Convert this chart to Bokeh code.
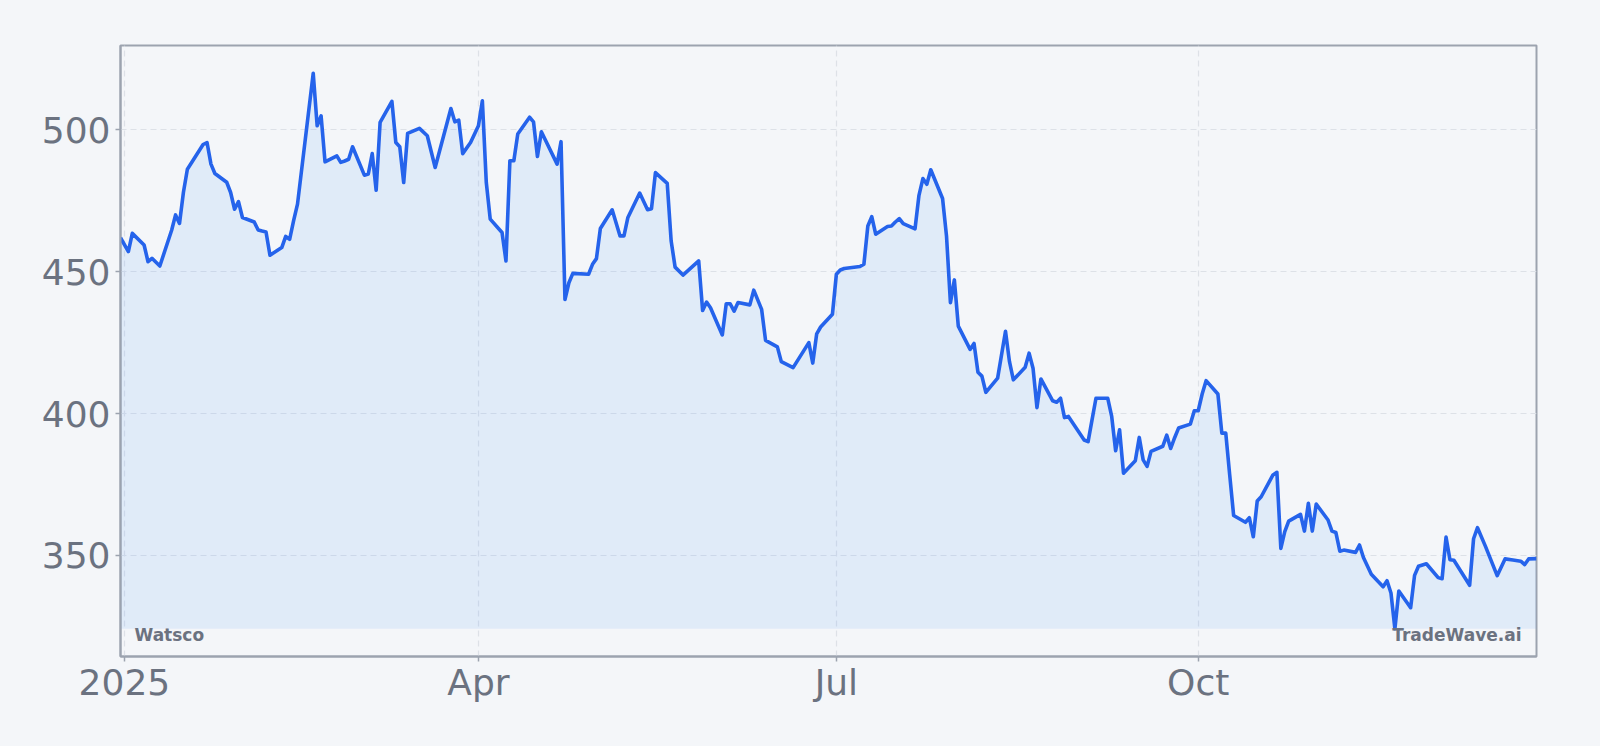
import pandas as pd
from bokeh.plotting import figure
from bokeh.models import FixedTicker, Label, Range1d, ColumnDataSource
from bokeh.embed import file_html
from bokeh.resources import INLINE

# ---- data ----
dates = [
    "2024-12-31", "2025-01-02", "2025-01-03", "2025-01-06", "2025-01-07", "2025-01-08", "2025-01-10",
    "2025-01-13", "2025-01-14", "2025-01-15", "2025-01-16", "2025-01-17", "2025-01-21", "2025-01-22",
    "2025-01-23", "2025-01-24", "2025-01-27", "2025-01-28", "2025-01-29", "2025-01-30", "2025-01-31",
    "2025-02-03", "2025-02-04", "2025-02-05", "2025-02-06", "2025-02-07", "2025-02-10", "2025-02-11",
    "2025-02-12", "2025-02-13", "2025-02-14", "2025-02-18", "2025-02-19", "2025-02-20", "2025-02-21",
    "2025-02-24", "2025-02-25", "2025-02-26", "2025-02-27", "2025-02-28", "2025-03-03", "2025-03-04",
    "2025-03-05", "2025-03-06", "2025-03-07", "2025-03-10", "2025-03-11", "2025-03-12", "2025-03-13",
    "2025-03-14", "2025-03-17", "2025-03-19", "2025-03-21", "2025-03-25", "2025-03-26", "2025-03-27",
    "2025-03-28", "2025-03-30", "2025-04-01", "2025-04-02", "2025-04-03", "2025-04-04", "2025-04-07",
    "2025-04-08", "2025-04-09", "2025-04-10", "2025-04-11", "2025-04-14", "2025-04-15", "2025-04-16",
    "2025-04-17", "2025-04-21", "2025-04-22", "2025-04-23", "2025-04-24", "2025-04-25", "2025-04-29",
    "2025-04-30", "2025-05-01", "2025-05-02", "2025-05-05", "2025-05-07", "2025-05-08", "2025-05-09",
    "2025-05-12", "2025-05-14", "2025-05-15", "2025-05-16", "2025-05-19", "2025-05-20", "2025-05-21",
    "2025-05-23", "2025-05-27", "2025-05-28", "2025-05-29", "2025-05-30", "2025-06-02", "2025-06-03",
    "2025-06-04", "2025-06-05", "2025-06-06", "2025-06-09", "2025-06-10", "2025-06-12", "2025-06-13",
    "2025-06-16", "2025-06-17", "2025-06-20", "2025-06-24", "2025-06-25", "2025-06-26", "2025-06-27",
    "2025-06-30", "2025-07-01", "2025-07-02", "2025-07-03", "2025-07-07", "2025-07-08", "2025-07-09",
    "2025-07-10", "2025-07-11", "2025-07-14", "2025-07-15", "2025-07-16", "2025-07-17", "2025-07-18",
    "2025-07-21", "2025-07-22", "2025-07-23", "2025-07-24", "2025-07-25", "2025-07-28", "2025-07-29",
    "2025-07-30", "2025-07-31", "2025-08-01", "2025-08-04", "2025-08-05", "2025-08-06", "2025-08-07",
    "2025-08-08", "2025-08-11", "2025-08-13", "2025-08-14", "2025-08-15", "2025-08-18", "2025-08-19",
    "2025-08-20", "2025-08-21", "2025-08-22", "2025-08-25", "2025-08-26", "2025-08-27", "2025-08-28",
    "2025-08-29", "2025-09-02", "2025-09-03", "2025-09-04", "2025-09-05", "2025-09-08", "2025-09-09",
    "2025-09-10", "2025-09-11", "2025-09-12", "2025-09-15", "2025-09-16", "2025-09-17", "2025-09-18",
    "2025-09-19", "2025-09-22", "2025-09-23", "2025-09-24", "2025-09-25", "2025-09-26", "2025-09-29",
    "2025-09-30", "2025-10-01", "2025-10-02", "2025-10-03", "2025-10-06", "2025-10-07", "2025-10-08",
    "2025-10-09", "2025-10-10", "2025-10-13", "2025-10-14", "2025-10-15", "2025-10-16", "2025-10-17",
    "2025-10-20", "2025-10-21", "2025-10-22", "2025-10-23", "2025-10-24", "2025-10-27", "2025-10-28",
    "2025-10-29", "2025-10-30", "2025-10-31", "2025-11-03", "2025-11-04", "2025-11-05", "2025-11-06",
    "2025-11-07", "2025-11-10", "2025-11-11", "2025-11-12", "2025-11-14", "2025-11-17", "2025-11-18",
    "2025-11-19", "2025-11-20", "2025-11-21", "2025-11-24", "2025-11-25", "2025-11-26", "2025-11-28",
    "2025-12-01", "2025-12-02", "2025-12-03", "2025-12-04", "2025-12-05", "2025-12-09", "2025-12-10",
    "2025-12-11", "2025-12-13", "2025-12-16", "2025-12-18", "2025-12-20", "2025-12-22", "2025-12-23",
    "2025-12-24", "2025-12-26",
]
prices = [
    462.0, 457.1, 463.5, 459.4, 453.5, 454.7, 452.0,
    464.6, 470.0, 467.0, 478.0, 486.1, 494.8, 495.5,
    487.9, 484.6, 481.5, 477.9, 472.0, 474.7, 469.1,
    467.5, 464.7, 464.3, 464.0, 455.8, 458.5, 462.4,
    461.4, 467.9, 473.8, 519.9, 501.4, 504.9, 488.7,
    490.8, 488.5, 489.0, 489.6, 494.0, 484.0, 484.4,
    491.6, 478.7, 502.6, 510.0, 495.5, 494.0, 481.4,
    498.7, 500.5, 497.9, 486.7, 507.5, 502.8, 503.4,
    491.6, 495.5, 501.4, 510.2, 481.4, 468.5, 463.8,
    453.8, 489.1, 489.1, 498.5, 504.4, 502.8, 490.6,
    499.3, 487.9, 495.8, 440.2, 446.1, 449.4, 449.1,
    452.6, 454.6, 465.2, 471.8, 462.6, 462.6, 469.1,
    477.7, 471.8, 472.2, 484.9, 481.1, 460.8, 451.6,
    448.8, 453.8, 436.3, 439.3, 437.3, 427.7, 438.7,
    438.7, 436.1, 439.1, 438.3, 443.5, 436.7, 425.8,
    423.5, 418.3, 416.2, 425.0, 417.8, 428.1, 430.5,
    435.0, 449.1, 450.6, 451.1, 451.8, 452.6, 466.1,
    469.4, 463.2, 465.9, 466.1, 467.5, 468.7, 466.9,
    465.1, 476.9, 482.8, 480.8, 485.9, 475.8, 462.6,
    439.1, 447.1, 430.8, 422.6, 424.7, 414.6, 413.2,
    407.5, 412.5, 429.0, 418.4, 411.9, 416.3, 421.3,
    416.0, 402.1, 412.2, 404.5, 404.0, 405.4, 398.6,
    399.0, 390.7, 390.1, 397.8, 405.4, 405.4, 399.0,
    386.9, 394.3, 379.0, 383.4, 391.6, 383.7, 381.4,
    386.7, 388.5, 392.4, 387.7, 391.5, 394.9, 396.3,
    401.0, 401.0, 406.9, 411.6, 406.9, 393.1, 393.1,
    378.4, 364.1, 361.7, 363.3, 356.6, 369.2, 370.7,
    378.4, 379.3, 352.5, 358.4, 362.1, 364.5, 358.6,
    368.4, 358.6, 368.1, 362.5, 358.6, 358.1, 351.5,
    351.9, 351.1, 353.7, 349.3, 343.4, 339.0, 341.1,
    336.8, 324.2, 337.5, 331.6, 343.0, 346.2, 347.1,
    342.2, 341.8, 356.5, 348.5, 348.3, 339.5, 355.9,
    359.8, 353.3, 342.9, 348.8, 348.4, 348.0, 346.8,
    348.8, 348.9,
]
x_tick_dates = ["2025-01-01", "2025-04-01", "2025-07-01", "2025-10-01"]
x_tick_labels = ["2025", "Apr", "Jul", "Oct"]
y_ticks = [350, 400, 450, 500]
company = "Watsco"
brand = "TradeWave.ai"

# ---- styling ----
BG = "#f4f6f9"
LINE = "#2563eb"
FILL = "#60a5fa"
FRAME = "#9ca3af"
TXT = "#6b7280"
GRID = "#dde1e7"
FONT = "DejaVu Sans"

dt = pd.to_datetime(dates)
lo, hi = min(prices), max(prices)
pad = (hi - lo) * 0.05
src = ColumnDataSource(dict(x=dt, y=prices))

x0 = dt[0].value / 1e6
x1 = dt[-1].value / 1e6

p = figure(
    width=1600, height=746, x_axis_type="datetime",
    output_backend="svg", toolbar_location=None,
    x_range=Range1d(x0, x1), y_range=Range1d(lo - pad, hi + pad),
    min_border_left=120, min_border_right=64, min_border_top=45, min_border_bottom=90,
    background_fill_color=BG, border_fill_color=BG,
)

p.varea(x="x", y1=lo, y2="y", source=src, fill_color=FILL, fill_alpha=0.13)
p.line(x="x", y="y", source=src, line_color=LINE, line_width=3.6, line_join="round")

tick_ms = [pd.Timestamp(d).value / 1e6 for d in x_tick_dates]
xt = FixedTicker(ticks=tick_ms)
yt = FixedTicker(ticks=y_ticks)
p.xaxis.ticker = xt
p.yaxis.ticker = yt
p.xgrid.ticker = xt
p.ygrid.ticker = yt
p.xaxis.major_label_overrides = {t: lab for t, lab in zip(tick_ms, x_tick_labels)}

for ax in (p.xaxis[0], p.yaxis[0]):
    ax.major_label_text_font = FONT
    ax.major_label_text_font_size = "36px"
    ax.major_label_text_color = TXT
    ax.axis_line_color = FRAME
    ax.axis_line_width = 2
    ax.major_tick_line_color = FRAME
    ax.major_tick_line_width = 1.5
    ax.major_tick_out = 5
    ax.major_tick_in = 0
    ax.minor_tick_line_color = None
p.yaxis.major_label_standoff = 5
p.xaxis.major_label_standoff = 0

for g in (p.xgrid[0], p.ygrid[0]):
    g.grid_line_color = GRID
    g.grid_line_width = 1.2
    g.grid_line_dash = "6 4"

p.outline_line_color = FRAME
p.outline_line_width = 2
p.outline_line_alpha = 1

p.add_layout(Label(x=x0, y=lo - pad, x_offset=14, y_offset=22, text=company,
                   text_font=FONT, text_font_style="bold", text_font_size="17px",
                   text_color=TXT, text_baseline="alphabetic", text_align="left"))
p.add_layout(Label(x=x1, y=lo - pad, x_offset=-15, y_offset=22, text=brand,
                   text_font=FONT, text_font_style="bold", text_font_size="17px",
                   text_color=TXT, text_baseline="alphabetic", text_align="right"))

html = file_html(p, INLINE, title="Watsco")
html = html.replace("<title>Watsco</title>",
                    "<title>Watsco</title><style>html,body{background:#f4f6f9;}</style>", 1)
open("out.html", "w").write(html)
